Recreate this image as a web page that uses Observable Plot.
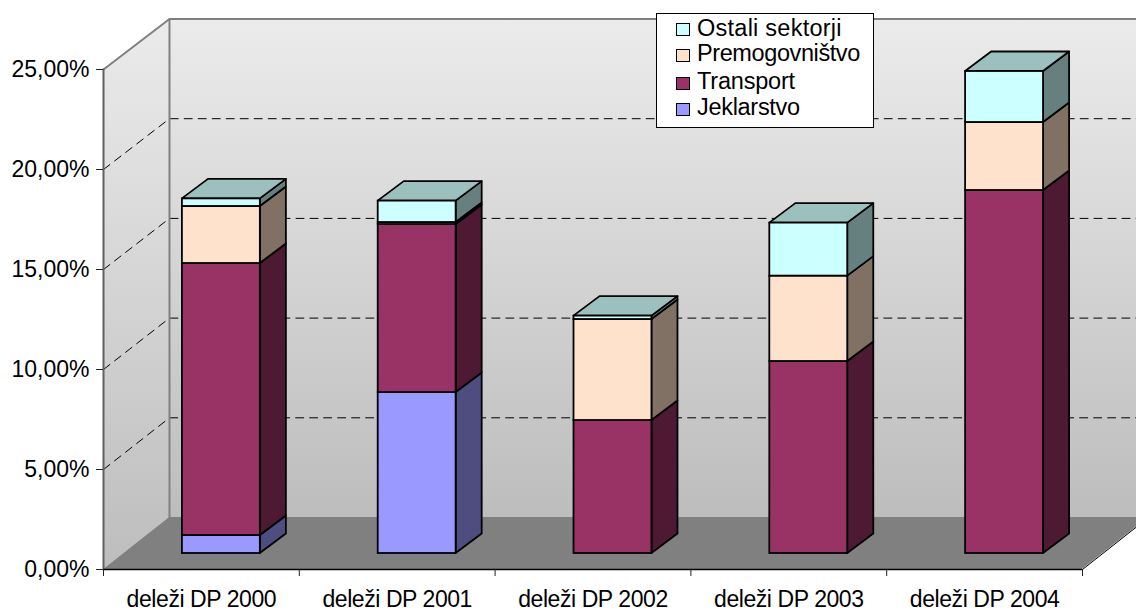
<!DOCTYPE html>
<html>
<head>
<meta charset="utf-8">
<script src="https://cdn.jsdelivr.net/npm/d3@7"></script>
<script src="https://cdn.jsdelivr.net/npm/@observablehq/plot@0.6"></script>
<style>
html,body{margin:0;padding:0;background:#fff}
#wrap{position:relative;width:1136px;height:612px;overflow:hidden;font-family:"Liberation Sans",Arial,sans-serif}
#legend{position:absolute;left:656px;top:13px;width:216px;height:113px;background:#fff;border:1px solid #000}
#legend .sw{position:absolute;left:19px;width:12px;height:11px;border:1.5px solid #000}
#legend .tx{position:absolute;left:40px;font-size:23.5px;line-height:24px;color:#000;white-space:nowrap}
g[aria-label="x-axis tick label"] text{letter-spacing:-0.43px}
</style>
</head>
<body>
<div id="wrap"></div>
<script>
// ---- data ----
const categories = ["deleži DP 2000","deleži DP 2001","deleži DP 2002","deleži DP 2003","deleži DP 2004"];
const jeklarstvo = [0.9, 8.05, 0, 0, 0];
const transport  = [13.6, 8.4, 6.65, 9.6, 18.15];
const premog     = [2.85, 0.1, 5.05, 4.27, 3.4];
const ostali     = [0.38, 1.07, 0.17, 2.65, 2.55];
const seriesNames = ["Jeklarstvo","Transport","Premogovništvo","Ostali sektorji"];
const seriesValues = [jeklarstvo, transport, premog, ostali];
const frontColors = ["#9999FF","#993366","#FFE2CB","#CCFFFF"];
const sideColors  = ["#4D4D80","#4D1933","#807164","#668080"];
const topColors   = ["#7373BF","#732650","#BFA998","#9CC0BE"];
const yTicks = [0,5,10,15,20,25];
const gridValues = [5,10,15,20];

// ---- pseudo-3D geometry, in data units of the x and y scales ----
const wallDX = 0.337, wallDY = 2.6, wallShrink = 0.997;
const back = v => v * wallShrink + wallDY;
const barDX = 0.133, barDY = 0.975;
const barShift = 0.102, barHalf = 0.199, baseLift = 0.8;
const n = categories.length;

const pt = (face,x,y1,y2) => ({face,x,y1,y2});
const leftWall = [pt("l",0,0,25), pt("l",wallDX,back(0),back(25))];
const backWall = [pt("b",wallDX,back(0),back(25)), pt("b",n+wallDX,back(0),back(25))];
const floor = [pt("f",0,0,0), pt("f",wallDX,0,back(0)), pt("f",n,0,back(0)), pt("f",n+wallDX,back(0),back(0))];

const fronts = [], sides = [], tops = [];
categories.forEach((c,i) => {
  const xl = i + 0.5 + barShift - barHalf, xr = i + 0.5 + barShift + barHalf;
  let acc = baseLift;
  seriesValues.forEach((vals,s) => {
    const v = vals[i];
    if (v <= 0) return;
    const a = acc, b = acc + v; acc = b;
    fronts.push({x1:xl,x2:xr,y1:a,y2:b,fill:frontColors[s],cat:c,series:seriesNames[s]});
    const id = i+"-"+s;
    sides.push({face:id,x:xr,y1:a,y2:b,fill:sideColors[s]});
    sides.push({face:id,x:xr+barDX,y1:a+barDY,y2:b+barDY,fill:sideColors[s]});
  });
  const t = acc, id = "t"+i, f = topColors[3];
  tops.push({face:id,x:xl,y1:t,y2:t,fill:f},
            {face:id,x:xl+barDX,y1:t,y2:t+barDY,fill:f},
            {face:id,x:xr,y1:t,y2:t+barDY,fill:f},
            {face:id,x:xr+barDX,y1:t+barDY,y2:t+barDY,fill:f});
});

const grid = gridValues.flatMap(v => [
  {g:v,x:0,y:v},{g:v,x:wallDX,y:back(v)},{g:v,x:n+wallDX,y:back(v)}
]);

const fmt = v => v.toFixed(2).replace(".",",") + "%";
const boundaries = d3.range(n+1);
const centers = d3.range(n).map(i => i+0.5);

const chart = Plot.plot({
  width:1136, height:612,
  marginLeft:103, marginRight:54, marginTop:69, marginBottom:43,
  x:{domain:[0,n], label:null},
  y:{domain:[0,25], label:null},
  color:{type:"identity"},
  style:{fontFamily:"'Liberation Sans',Arial,sans-serif", background:"#fff", color:"#000"},
  marks:[
    Plot.areaY(leftWall,{x:"x",y1:"y1",y2:"y2",fill:"url(#wall)"}),
    Plot.areaY(backWall,{x:"x",y1:"y1",y2:"y2",fill:"url(#wall)"}),
    Plot.areaY(floor,{x:"x",y1:"y1",y2:"y2",fill:"#808080"}),
    Plot.line(grid,{x:"x",y:"y",z:"g",stroke:"#000",strokeWidth:1,strokeDasharray:"8,6"}),
    Plot.line([{x:0,y:25},{x:wallDX,y:back(25)},{x:n+wallDX,y:back(25)}],{x:"x",y:"y",stroke:"#808080",strokeWidth:2}),
    Plot.line([{x:wallDX,y:back(0)},{x:wallDX,y:back(25)}],{x:"x",y:"y",stroke:"#808080",strokeWidth:2}),
    Plot.line([{x:0,y:0},{x:0,y:25}],{x:"x",y:"y",stroke:"#606060",strokeWidth:2}),
    Plot.line([{x:n,y:0},{x:n+wallDX,y:back(0)}],{x:"x",y:"y",stroke:"#000",strokeWidth:1}),
    Plot.ruleY([0],{x1:0,x2:n,stroke:"#000",strokeWidth:1.5}),
    Plot.areaY(sides,{x:"x",y1:"y1",y2:"y2",z:"face",fill:d=>d.fill,stroke:"#000",strokeWidth:1.8}),
    Plot.areaY(tops,{x:"x",y1:"y1",y2:"y2",z:"face",fill:d=>d.fill,stroke:"#000",strokeWidth:1.8}),
    Plot.rectY(fronts,{x1:"x1",x2:"x2",y1:"y1",y2:"y2",fill:d=>d.fill,stroke:"#000",strokeWidth:1.8}),
    Plot.axisY({ticks:yTicks,tickFormat:fmt,tickSize:7,tickPadding:7,fontSize:23,label:null,stroke:"#222"}),
    Plot.axisX({ticks:boundaries,tickSize:7,text:null,label:null,stroke:"#222"}),
    Plot.axisX({ticks:centers,tickSize:0,tickPadding:21,tickFormat:d=>categories[Math.floor(d)],fontSize:23,label:null})
  ]
});

d3.select(chart).insert("defs",":first-child").html(
  '<linearGradient id="wall" x1="0" y1="0" x2="0" y2="1">' +
  '<stop offset="0" stop-color="#EBEBEB"/><stop offset="1" stop-color="#BDBDBD"/></linearGradient>');

const wrap = document.getElementById("wrap");
wrap.appendChild(chart);

// legend box overlapping the plot, as in the original
const legendOrder = [3,2,1,0];
const legendSwatchTops = [9,35,63,89];
const legendTextTops = [2,27,55,81];
const legendSpacing = [0.25,-0.4,-0.2,-0.3];
const leg = document.createElement("div"); leg.id = "legend";
legendOrder.forEach((s,k) => {
  const sw = document.createElement("div"); sw.className = "sw";
  sw.style.top = legendSwatchTops[k] + "px"; sw.style.background = frontColors[s];
  const tx = document.createElement("div"); tx.className = "tx";
  tx.style.top = legendTextTops[k] + "px"; tx.style.letterSpacing = legendSpacing[k] + "px";
  tx.textContent = seriesNames[s];
  leg.appendChild(sw); leg.appendChild(tx);
});
wrap.appendChild(leg);
</script>
</body>
</html>
